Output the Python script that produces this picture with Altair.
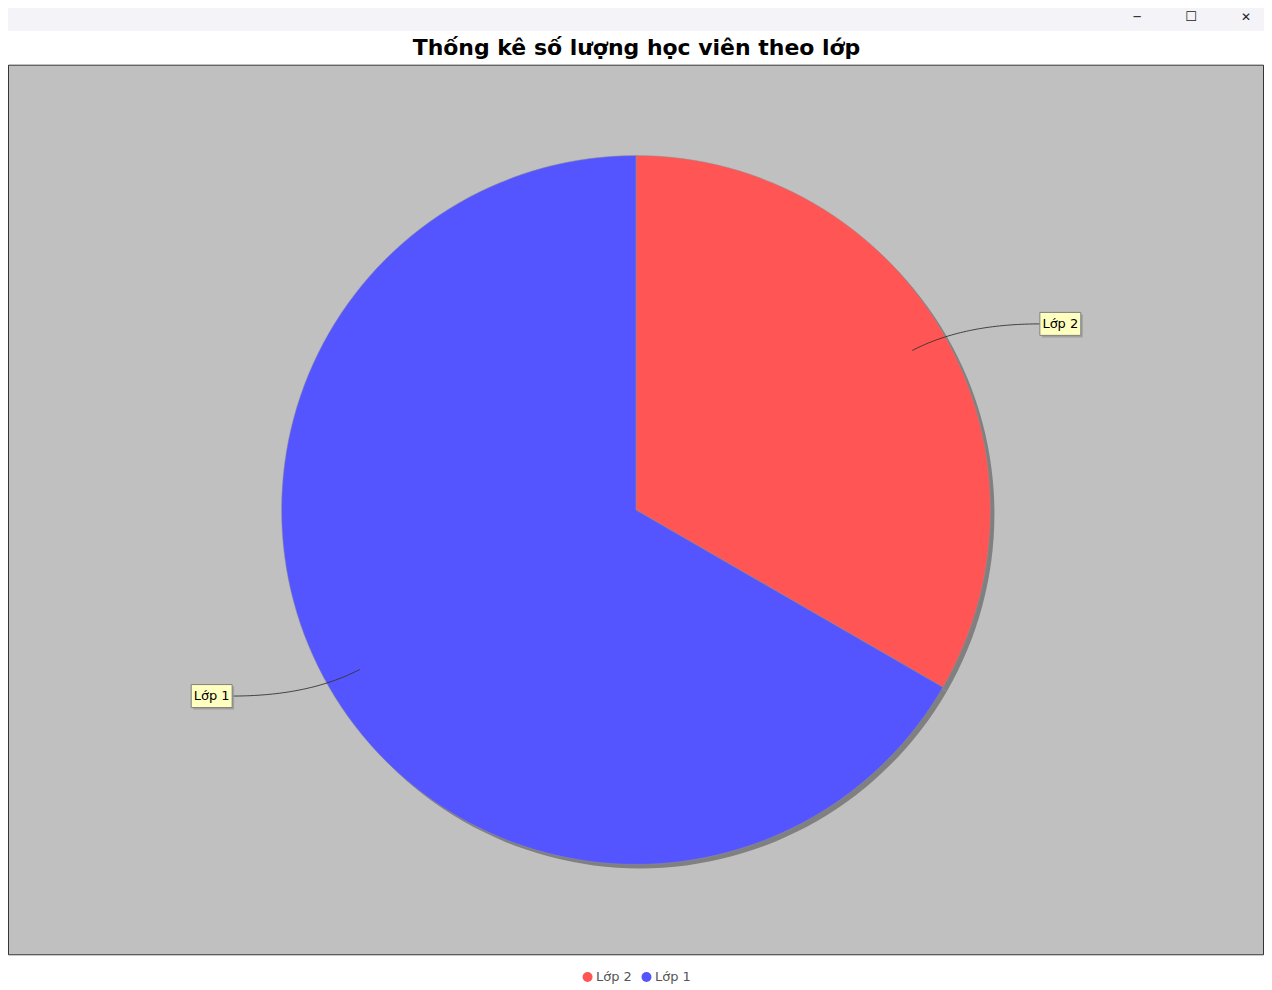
import math
import altair as alt
import pandas as pd

# ---- data ----
categories = ["Lớp 2", "Lớp 1"]
values = [1, 2]
colors = ["#FF5555", "#5555FF"]
title_text = "Thống kê số lượng học viên theo lớp"

# ---- layout constants ----
W, H = 1258, 892
R = 355
LABEL_X = 425
BOX_HW, BOX_HH = 20.5, 11.5

df = pd.DataFrame({"category": categories, "value": values, "idx": range(len(categories))})

# label geometry derived from the data (angles from top, clockwise)
total = sum(values)
rows_lab, rows_link = [], []
start = 0.0
for i, (c, v) in enumerate(zip(categories, values)):
    ang = start + v / total * 360 / 2
    start += v / total * 360
    a = math.radians(ang)
    s, co = math.sin(a), math.cos(a)
    side = 1 if s >= 0 else -1
    ax, ay = 0.9 * R * s, 0.9 * R * co
    ly = 1.05 * R * co
    lx = side * LABEL_X
    tx = lx - side * BOX_HW
    cx, cy = ax + 0.4 * (tx - ax), ly
    rows_lab.append({"category": c, "lx": lx, "ly": ly,
                     "x1": lx - BOX_HW, "x2": lx + BOX_HW,
                     "y1": ly - BOX_HH, "y2": ly + BOX_HH})
    n = 40
    for k in range(n + 1):
        t = k / n
        px = (1 - t) ** 2 * ax + 2 * (1 - t) * t * cx + t ** 2 * tx
        py = (1 - t) ** 2 * ay + 2 * (1 - t) * t * cy + t ** 2 * ly
        rows_link.append({"category": c, "t": k, "px": px, "py": py})

lab = pd.DataFrame(rows_lab)
link = pd.DataFrame(rows_link)

xs = alt.Scale(domain=[-W / 2, W / 2], nice=False, zero=False)
ys = alt.Scale(domain=[-H / 2, H / 2], nice=False, zero=False)

# window title bar (decoration)
chrome = pd.DataFrame({"k": [0]})
bar = alt.Chart(chrome).mark_rect(fill="#f3f3f8").encode(
    x=alt.value(-8), x2=alt.value(W + 8), y=alt.value(-64), y2=alt.value(-34))
glyph_min = alt.Chart(chrome).mark_text(text="─", fontSize=12, font="DejaVu Sans", color="#222", baseline="middle").encode(
    x=alt.value(1139 - 8), y=alt.value(16 - 64))
glyph_max = alt.Chart(chrome).mark_text(text="☐", fontSize=13, font="DejaVu Sans", color="#222", baseline="middle").encode(
    x=alt.value(1193 - 8), y=alt.value(16 - 64))
glyph_close = alt.Chart(chrome).mark_text(text="✕", fontSize=12, font="DejaVu Sans", color="#222", baseline="middle").encode(
    x=alt.value(1248 - 8), y=alt.value(16 - 64))

title = alt.Chart(chrome).mark_text(
    text=title_text, font="DejaVu Sans", fontSize=22, fontWeight="bold",
    color="#000000", align="center", baseline="alphabetic",
).encode(x=alt.value(W / 2 + 0.5), y=alt.value(54 - 64))

plot_bg = alt.Chart(chrome).mark_rect(fill="#c0c0c0", stroke="#333333", strokeWidth=1).encode(
    x=alt.value(0.5), x2=alt.value(W - 0.5), y=alt.value(0.5), y2=alt.value(H - 0.5))

shadow = alt.Chart(df).mark_arc(radius=R, fill="#808080").encode(
    theta=alt.Theta("value:Q", stack=True),
    order=alt.Order("idx:Q"),
    x=alt.value(W / 2 + 4), y=alt.value(H / 2 + 4),
)

pie = alt.Chart(df).mark_arc(radius=R, stroke="#909090", strokeWidth=0.5).encode(
    theta=alt.Theta("value:Q", stack=True),
    order=alt.Order("idx:Q"),
    color=alt.Color(
        "category:N",
        scale=alt.Scale(domain=categories, range=colors),
        legend=alt.Legend(
            orient="none", legendX=574, legendY=907, direction="horizontal",
            title=None, symbolType="circle", symbolSize=100, symbolStrokeWidth=0,
            labelFontSize=13, labelFont="DejaVu Sans", labelColor="#555555",
            columnPadding=8, labelOffset=2, padding=0,
        ),
    ),
)

links = alt.Chart(link).mark_line(color="#333333", strokeWidth=0.9).encode(
    x=alt.X("px:Q", scale=xs, axis=None),
    y=alt.Y("py:Q", scale=ys, axis=None),
    detail="category:N",
    order=alt.Order("t:Q"),
)

box_shadow = alt.Chart(lab).mark_rect(
    fill="#979797", opacity=0.8, xOffset=2, x2Offset=2, yOffset=2, y2Offset=2
).encode(
    x=alt.X("x1:Q", scale=xs, axis=None), x2="x2:Q",
    y=alt.Y("y1:Q", scale=ys, axis=None), y2="y2:Q",
)

boxes = alt.Chart(lab).mark_rect(fill="#FFFFC0", stroke="#808080", strokeWidth=1).encode(
    x=alt.X("x1:Q", scale=xs, axis=None), x2="x2:Q",
    y=alt.Y("y1:Q", scale=ys, axis=None), y2="y2:Q",
)

texts = alt.Chart(lab).mark_text(
    fontSize=13, font="DejaVu Sans", color="#000000", align="center", baseline="middle"
).encode(
    x=alt.X("lx:Q", scale=xs, axis=None),
    y=alt.Y("ly:Q", scale=ys, axis=None),
    text="category:N",
)

chart = alt.layer(
    bar, glyph_min, glyph_max, glyph_close, title, plot_bg,
    shadow, pie, links, box_shadow, boxes, texts
).properties(
    width=W, height=H,
    autosize=alt.AutoSizeParams(type="none"),
    padding={"left": 0, "top": 56, "right": 0, "bottom": 30},
    background="#ffffff",
).configure_view(
    fill="#c0c0c0", strokeWidth=0,
)

chart.save("out.html", embed_options={"renderer": "svg", "actions": False})
